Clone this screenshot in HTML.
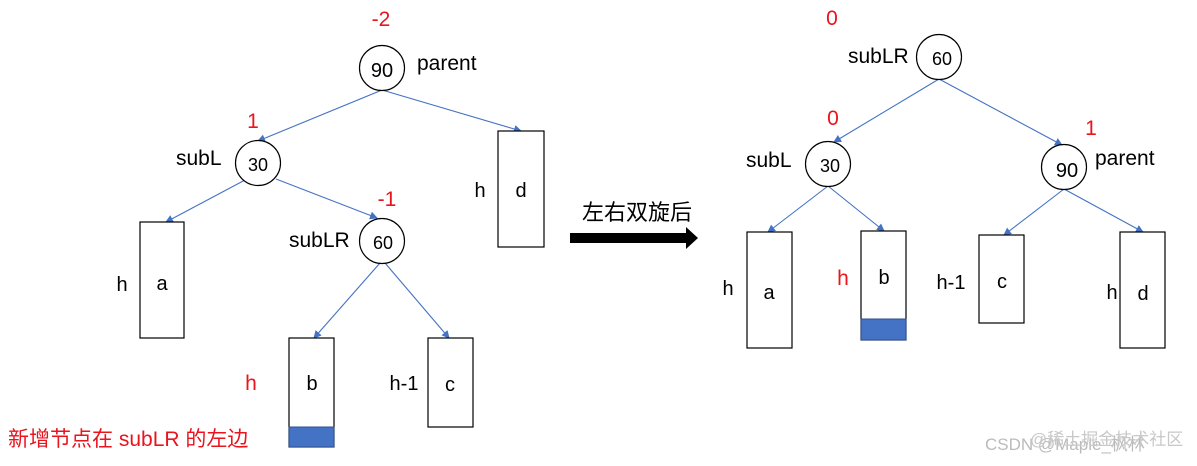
<!DOCTYPE html>
<html><head><meta charset="utf-8"><style>
html,body{margin:0;padding:0;background:#fff;width:1197px;height:466px;overflow:hidden}
svg text{font-family:"Liberation Sans","Noto Sans CJK SC",sans-serif}
</style></head><body>
<svg width="1197" height="466" viewBox="0 0 1197 466" xmlns="http://www.w3.org/2000/svg">
<defs><marker id="ar" markerWidth="8" markerHeight="8" refX="7" refY="4" orient="auto" markerUnits="userSpaceOnUse"><path d="M0,0 L8,4 L0,8 z" fill="#4472c4"/></marker></defs>
<g stroke="#4472c4" stroke-width="1.1" fill="none" marker-end="url(#ar)">
<line x1="382" y1="90" x2="258" y2="141"/>
<line x1="382" y1="90" x2="521" y2="131"/>
<line x1="245" y1="180" x2="166" y2="222"/>
<line x1="276" y1="179" x2="377" y2="218"/>
<line x1="380" y1="263" x2="314" y2="338"/>
<line x1="385" y1="263" x2="449" y2="338"/>
<line x1="939" y1="79" x2="834" y2="142"/>
<line x1="939" y1="79" x2="1062" y2="145"/>
<line x1="828" y1="186" x2="768" y2="232"/>
<line x1="828" y1="186" x2="884" y2="231"/>
<line x1="1064" y1="189" x2="1004" y2="235"/>
<line x1="1064" y1="189" x2="1143" y2="232"/>
</g>
<g stroke="#000" stroke-width="1.2" fill="#fff">
<circle cx="382" cy="68" r="22.5"/>
<circle cx="258" cy="163" r="22.5"/>
<circle cx="382" cy="241" r="22.5"/>
<circle cx="939" cy="57" r="22.5"/>
<circle cx="828" cy="164" r="22.5"/>
<circle cx="1064" cy="167" r="22.5"/>
<rect x="140" y="222" width="44" height="116"/>
<rect x="498" y="131" width="46" height="116"/>
<rect x="289" y="338" width="45" height="109"/>
<rect x="428" y="338" width="45" height="89"/>
<rect x="747" y="232" width="45" height="116"/>
<rect x="861" y="231" width="45" height="109"/>
<rect x="979" y="235" width="45" height="88"/>
<rect x="1120" y="232" width="45" height="116"/>
</g>
<rect x="289" y="427" width="45" height="20" fill="#4472c4" stroke="#2f528f" stroke-width="1"/>
<rect x="861" y="319" width="45" height="21" fill="#4472c4" stroke="#2f528f" stroke-width="1"/>
<g font-size="20" fill="#000">
<text x="382" y="77" text-anchor="middle">90</text>
<text x="258" y="171" text-anchor="middle" font-size="18">30</text>
<text x="383" y="249" text-anchor="middle" font-size="18">60</text>
<text x="942" y="65" text-anchor="middle" font-size="18">60</text>
<text x="830" y="172" text-anchor="middle" font-size="18">30</text>
<text x="1067" y="177" text-anchor="middle">90</text>
<text x="417" y="70" font-size="21">parent</text>
<text x="176" y="165" font-size="21">subL</text>
<text x="289" y="247" font-size="21">subLR</text>
<text x="848" y="63" font-size="21">subLR</text>
<text x="746" y="167" font-size="21">subL</text>
<text x="1095" y="165" font-size="21">parent</text>
<text x="122" y="291" text-anchor="middle">h</text>
<text x="162" y="290" text-anchor="middle">a</text>
<text x="480" y="197" text-anchor="middle">h</text>
<text x="521" y="197" text-anchor="middle">d</text>
<text x="312" y="390" text-anchor="middle">b</text>
<text x="404" y="390" text-anchor="middle">h-1</text>
<text x="450" y="391" text-anchor="middle">c</text>
<text x="728" y="295" text-anchor="middle">h</text>
<text x="769" y="299" text-anchor="middle">a</text>
<text x="884" y="284" text-anchor="middle">b</text>
<text x="951" y="289" text-anchor="middle">h-1</text>
<text x="1002" y="288" text-anchor="middle">c</text>
<text x="1112" y="299" text-anchor="middle">h</text>
<text x="1143" y="300" text-anchor="middle">d</text>
<text x="582" y="220" font-size="22">左右双旋后</text>
</g>
<g font-size="21" fill="#e8141e">
<text x="381" y="26" text-anchor="middle">-2</text>
<text x="253" y="128" text-anchor="middle">1</text>
<text x="387" y="206" text-anchor="middle">-1</text>
<text x="251" y="390" text-anchor="middle">h</text>
<text x="832" y="25" text-anchor="middle">0</text>
<text x="833" y="125" text-anchor="middle">0</text>
<text x="1091" y="135" text-anchor="middle">1</text>
<text x="843" y="285" text-anchor="middle">h</text>
<text x="8" y="446" font-size="21">新增节点在 subLR 的左边</text>
</g>
<path d="M570,233 L686,233 L686,227 L698,238 L686,249 L686,243 L570,243 z" fill="#000"/>
<text x="985" y="450" font-size="17" fill="#bbb">CSDN @Maple_枫林</text>
<text x="1030" y="445" font-size="17" fill="#c8c8c8">@稀土掘金技术社区</text>
</svg>
</body></html>
